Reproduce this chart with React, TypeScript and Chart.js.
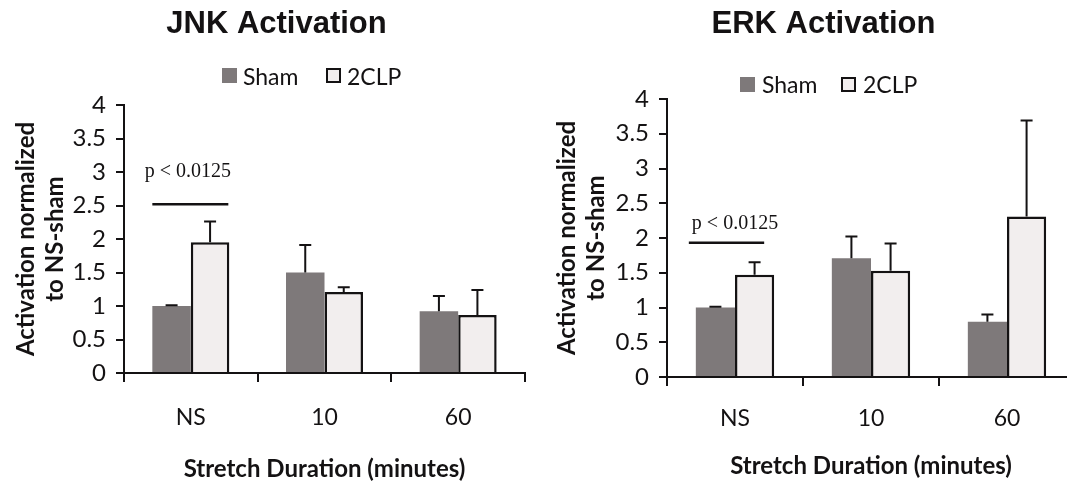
import React, { useEffect, useRef } from 'react';
import { Chart, registerables } from 'chart.js';

Chart.register(...registerables);

// ---------- data ----------
const categories = ['NS', '10', '60'];
const seriesLabels = ['Sham', '2CLP'];
const yTickValues = [0, 0.5, 1, 1.5, 2, 2.5, 3, 3.5, 4];
const yTickLabels = ['0', '0.5', '1', '1.5', '2', '2.5', '3', '3.5', '4'];
const xAxisTitle = 'Stretch Duration (minutes)';
const yAxisTitle = ['Activation normalized', 'to NS-sham'];
const sigLabel = 'p < 0.0125';

// JNK panel
const jnkSham = [1.0, 1.5, 0.92];
const jnkShamSE = [0.01, 0.41, 0.23];
const jnk2CLP = [1.95, 1.21, 0.865];
const jnk2CLPSE = [0.31, 0.07, 0.375];
const jnkSigLine = 2.52;
const jnkSigText = 2.92;

// ERK panel
const erkSham = [1.0, 1.71, 0.795];
const erkShamSE = [0.01, 0.31, 0.105];
const erk2CLP = [1.47, 1.53, 2.31];
const erk2CLPSE = [0.18, 0.39, 1.38];
const erkSigLine = 1.93;
const erkSigText = 2.135;

// ---------- styles ----------
const SANS = 'Lato, "Open Sans", sans-serif';
const SHAM_COLOR = '#7e797a';
const CLP_COLOR = '#f2eeee';
const INK = '#141213';

const annotPlugin = {
  id: 'annot',
  afterDatasetsDraw(chart: any, _args: any, opts: any) {
    const ctx = chart.ctx;
    const y = chart.scales.y;
    ctx.save();
    ctx.strokeStyle = INK;
    ctx.lineWidth = 2;
    // error bars (upper only)
    opts.se.forEach((seArr: number[], di: number) => {
      const meta = chart.getDatasetMeta(di);
      meta.data.forEach((bar: any, i: number) => {
        const v = chart.data.datasets[di].data[i] as number;
        const yb = y.getPixelForValue(v);
        const yt = y.getPixelForValue(v + seArr[i]);
        ctx.beginPath();
        ctx.moveTo(bar.x, yb);
        ctx.lineTo(bar.x, yt);
        ctx.moveTo(bar.x - 6, yt);
        ctx.lineTo(bar.x + 6, yt);
        ctx.stroke();
      });
    });
    // significance bracket
    const b0 = chart.getDatasetMeta(0).data[0];
    const b1 = chart.getDatasetMeta(1).data[0];
    const left = b0.x - b0.width / 2 + opts.sigDx[0];
    const right = b1.x + b1.width / 2 + opts.sigDx[1];
    const ys = y.getPixelForValue(opts.sigLine);
    ctx.lineWidth = 2.5;
    ctx.beginPath();
    ctx.moveTo(left, ys);
    ctx.lineTo(right, ys);
    ctx.stroke();
    ctx.fillStyle = INK;
    ctx.font = '20px "Liberation Serif", "Times New Roman", serif';
    ctx.textAlign = 'center';
    ctx.textBaseline = 'alphabetic';
    const cx = (b0.x - b0.width / 2 + b1.x + b1.width / 2) / 2 + opts.textDx;
    ctx.fillText(opts.text, cx, y.getPixelForValue(opts.sigText));
    ctx.restore();
  },
  afterDraw(chart: any, _args: any, opts: any) {
    const ctx = chart.ctx;
    ctx.save();
    // title
    ctx.fillStyle = INK;
    ctx.font = 'bold 31px "Liberation Sans", Arial, sans-serif';
    ctx.textAlign = 'center';
    ctx.textBaseline = 'alphabetic';
    ctx.fillText(opts.title, opts.titleX, 33);
    // legend
    ctx.font = `23px ${SANS}`;
    ctx.textAlign = 'left';
    chart.data.datasets.forEach((ds: any, i: number) => {
      const sx = opts.legendSq[i];
      const sy = opts.legendTop;
      ctx.fillStyle = ds.backgroundColor;
      ctx.fillRect(sx, sy, 15, 15);
      if (ds.borderWidth) {
        ctx.strokeStyle = INK;
        ctx.lineWidth = 2;
        ctx.strokeRect(sx + 1, sy + 1, 13, 13);
      }
      ctx.fillStyle = INK;
      ctx.fillText(ds.label, opts.legendText[i], opts.legendBase);
    });
    ctx.restore();
  },
};

type Panel = {
  title: string;
  sham: number[];
  shamSE: number[];
  clp: number[];
  clpSE: number[];
  sigLine: number;
  sigText: number;
  canvasLeft: number;
  canvasWidth: number;
  areaLeft: number;
  areaTop: number;
  areaBottom: number;
  padRight: number;
  titleX: number;
  legendSq: number[];
  legendText: number[];
  legendTop: number;
  legendBase: number;
  yTitlePad: number;
  xTickPad: number;
  xTitlePad: number;
  sigDx: number[];
  textDx: number;
};

const H = 481;

const panels: Panel[] = [
  {
    title: 'JNK Activation',
    sham: jnkSham,
    shamSE: jnkShamSE,
    clp: jnk2CLP,
    clpSE: jnk2CLPSE,
    sigLine: jnkSigLine,
    sigText: jnkSigText,
    canvasLeft: 0,
    canvasWidth: 535,
    areaLeft: 124,
    areaTop: 105,
    areaBottom: 373,
    padRight: 10,
    titleX: 276.5,
    legendSq: [222, 326],
    legendText: [243, 347],
    legendTop: 68,
    legendBase: 85,
    yTitlePad: 11.6,
    xTickPad: 22,
    xTitlePad: 0,
    sigDx: [0, -1],
    textDx: -3,
  },
  {
    title: 'ERK Activation',
    sham: erkSham,
    shamSE: erkShamSE,
    clp: erk2CLP,
    clpSE: erk2CLPSE,
    sigLine: erkSigLine,
    sigText: erkSigText,
    canvasLeft: 535,
    canvasWidth: 545,
    areaLeft: 132,
    areaTop: 99,
    areaBottom: 377,
    padRight: 5,
    titleX: 288.5,
    legendSq: [205, 306],
    legendText: [227, 328],
    legendTop: 77,
    legendBase: 93,
    yTitlePad: 17.6,
    xTickPad: 19,
    xTitlePad: 3,
    sigDx: [-7, -10],
    textDx: 0,
  },
];

function PanelChart({ p }: { p: Panel }) {
  const ref = useRef<HTMLCanvasElement | null>(null);
  useEffect(() => {
    const canvas = ref.current!;
    const tickFont = { family: SANS, size: 23 };
    const chart = new Chart(canvas, {
      type: 'bar',
      data: {
        labels: categories,
        datasets: [
          {
            label: seriesLabels[0],
            data: p.sham,
            backgroundColor: SHAM_COLOR,
            borderWidth: 0,
            categoryPercentage: 0.576,
            barPercentage: 1,
          },
          {
            label: seriesLabels[1],
            data: p.clp,
            backgroundColor: CLP_COLOR,
            borderColor: INK,
            borderWidth: 2.5,
            categoryPercentage: 0.576,
            barPercentage: 1,
          },
        ],
      },
      options: {
        responsive: false,
        animation: false,
        events: [],
        layout: { padding: { top: p.areaTop, right: p.padRight, bottom: 0, left: 0 } },
        plugins: {
          legend: { display: false },
          title: { display: false },
          tooltip: { enabled: false },
          annot: {
            se: [p.shamSE, p.clpSE],
            sigLine: p.sigLine,
            sigText: p.sigText,
            sigDx: p.sigDx,
            textDx: p.textDx,
            text: sigLabel,
            title: p.title,
            titleX: p.titleX,
            legendSq: p.legendSq,
            legendText: p.legendText,
            legendTop: p.legendTop,
            legendBase: p.legendBase,
          },
        } as any,
        scales: {
          x: {
            grid: {
              display: true,
              drawOnChartArea: false,
              drawTicks: true,
              tickLength: 9,
              color: INK,
              lineWidth: 2,
              offset: true,
            },
            border: { display: true, color: INK, width: 2 },
            ticks: { font: tickFont, color: INK, padding: p.xTickPad },
            title: {
              display: true,
              text: xAxisTitle,
              color: INK,
              font: { family: SANS, size: 24, weight: 'bold', lineHeight: 1 },
              padding: { top: 0, bottom: p.xTitlePad },
            },
            afterFit: (s: any) => {
              s.height = H - p.areaBottom;
            },
          },
          y: {
            min: 0,
            max: 4,
            afterBuildTicks: (s: any) => {
              s.ticks = yTickValues.map((v) => ({ value: v }));
            },
            ticks: {
              font: { family: SANS, size: 24 },
              color: INK,
              padding: 10,
              callback: (_v: any, i: number) => yTickLabels[i],
            },
            grid: {
              drawOnChartArea: false,
              drawTicks: true,
              tickLength: 8,
              color: INK,
              lineWidth: 2,
            },
            border: { display: true, color: INK, width: 2 },
            title: {
              display: true,
              text: yAxisTitle,
              color: INK,
              font: { family: SANS, size: 24, weight: 'bold', lineHeight: 1.2 },
              padding: { top: p.yTitlePad, bottom: 0 },
            },
            afterFit: (s: any) => {
              s.width = p.areaLeft;
            },
          },
        } as any,
      },
      plugins: [annotPlugin],
    });
    return () => chart.destroy();
  }, [p]);
  return (
    <canvas
      ref={ref}
      width={p.canvasWidth}
      height={H}
      style={{ position: 'absolute', left: p.canvasLeft, top: 0, width: p.canvasWidth, height: H }}
    />
  );
}

export default function App() {
  return (
    <div
      style={{
        position: 'fixed',
        left: 0,
        top: 0,
        width: 1067,
        height: H,
        overflow: 'hidden',
        background: '#fff',
      }}
    >
      {panels.map((p) => (
        <PanelChart key={p.title} p={p} />
      ))}
    </div>
  );
}
